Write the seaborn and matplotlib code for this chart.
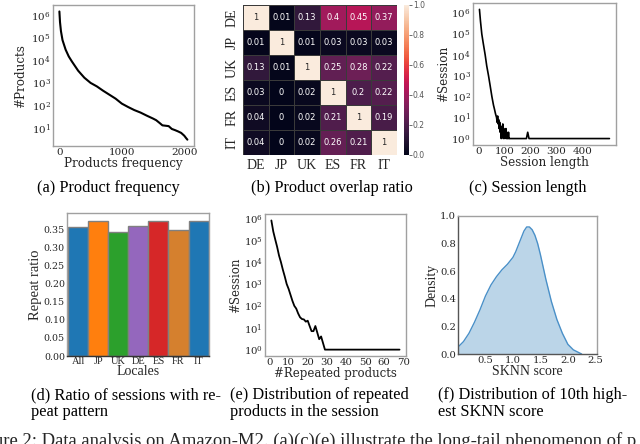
import numpy as np
import pandas as pd
import matplotlib
matplotlib.use("Agg")
import matplotlib.pyplot as plt
import seaborn as sns

# ---------------- data ----------------
# (a) product frequency
prod_x = [0, 10, 25, 50, 100, 150, 200, 300, 400, 500, 600, 700, 800, 900, 1000,
          1100, 1200, 1300, 1400, 1500, 1550, 1600, 1650, 1700, 1750, 1800, 1850,
          1900, 1950, 2000, 2030, 2050]
prod_y = [1.5e6, 5e5, 2e5, 8e4, 3e4, 1.5e4, 9e3, 3.5e3, 1.7e3, 1e3, 700, 450, 300,
          200, 120, 85, 62, 48, 35, 26, 22, 17, 13, 12.5, 12, 9, 8, 7, 6, 4.5, 3.5, 3]

# (b) product overlap ratio
locales_hm = ["DE", "JP", "UK", "ES", "FR", "IT"]
overlap = [
    [1, 0.01, 0.13, 0.4, 0.45, 0.37],
    [0.01, 1, 0.01, 0.03, 0.03, 0.03],
    [0.13, 0.01, 1, 0.25, 0.28, 0.22],
    [0.03, 0, 0.02, 1, 0.2, 0.22],
    [0.04, 0, 0.02, 0.21, 1, 0.19],
    [0.04, 0, 0.02, 0.26, 0.21, 1],
]

# (c) session length
sess_x = [4, 8, 13, 18, 26, 32, 39, 45, 52, 58, 62, 66, 70, 72, 74, 76, 78, 80, 82,
          84, 86, 88, 90, 92, 94, 96, 98, 100, 102, 104, 106, 108, 110, 112, 114,
          116, 118, 120, 185, 190, 195, 505]
sess_y = [1.5e6, 4e5, 1e5, 4e4, 1e4, 3e3, 1e3, 350, 100, 40, 25, 15, 10, 6, 12, 5,
          8, 3, 6, 2, 4, 1, 3, 2, 5, 1, 3, 2, 1, 2, 3, 1, 2, 1, 1, 2, 1, 1, 1, 2, 1, 1]

# (d) repeat ratio per locale
locales_bar = ["All", "JP", "UK", "DE", "ES", "FR", "IT"]
repeat_ratio = [0.357, 0.372, 0.342, 0.359, 0.372, 0.349, 0.373]
bar_colors = ["#1f77b4", "#ff7f0e", "#2ca02c", "#9467bd", "#d62728", "#d5802e", "#1f77b4"]

# (e) repeated products
rep_x = [1, 2, 3, 4, 5, 6, 7, 8, 9, 10, 11, 12, 13, 14, 15, 16, 17, 18, 19, 20, 21,
         22, 23, 24, 25, 26, 27, 28, 29, 68]
rep_y = [8e5, 2.5e5, 1.1e5, 5e4, 2e4, 1e4, 4.5e3, 2.2e3, 1e3, 600, 320, 170, 100, 75,
         45, 30, 25, 24, 19, 21, 12, 7, 7, 12, 6, 3, 4, 2, 1, 1]

# (f) density of 10th highest SKNN score
sknn_x = [0.0, 0.1, 0.2, 0.3, 0.4, 0.5, 0.6, 0.7, 0.8, 0.9, 1.0, 1.05, 1.1, 1.15,
          1.2, 1.25, 1.3, 1.35, 1.4, 1.45, 1.5, 1.6, 1.7, 1.8, 1.9, 2.0, 2.1, 2.2, 2.25]
sknn_d = [0.05, 0.09, 0.15, 0.23, 0.32, 0.42, 0.5, 0.56, 0.61, 0.65, 0.7, 0.74,
          0.79, 0.84, 0.89, 0.92, 0.92, 0.9, 0.86, 0.8, 0.72, 0.54, 0.38, 0.25,
          0.15, 0.07, 0.03, 0.01, 0.0]

# ---------------- style ----------------
sns.set_theme(style="white")
plt.rcParams["font.family"] = ["DejaVu Serif"]
plt.rcParams["mathtext.fontset"] = "dejavuserif"
plt.rcParams["axes.edgecolor"] = "#a0a0a0"
plt.rcParams["axes.linewidth"] = 1.0

TIMES = "Liberation Serif"
TICK = 7.5
LAB = 8.6

fig = plt.figure(figsize=(6.4, 4.44), dpi=100)


def log_axis(ax):
    ax.set_yscale("log")
    ax.minorticks_off()


def clean_ticks(ax, fs=TICK):
    ax.tick_params(labelsize=fs, length=0, pad=1.5)


# ---- (a) ----
ax_a = fig.add_axes([0.0828, 0.671, 0.220, 0.3176])
sns.lineplot(x=prod_x, y=prod_y, ax=ax_a, color="black", linewidth=1.5)
log_axis(ax_a)
ax_a.set_yticks([1e1, 1e2, 1e3, 1e4, 1e5, 1e6])
ax_a.set_xticks([0, 1000, 2000])
clean_ticks(ax_a)
ax_a.set_xlabel("Products frequency", fontsize=LAB, labelpad=0)
ax_a.set_ylabel("#Products", fontsize=LAB, labelpad=3)

# ---- (b) ----
ax_b = fig.add_axes([0.3797, 0.651, 0.2406, 0.3378])
cax = fig.add_axes([0.631, 0.651, 0.0078, 0.3378])
hm = pd.DataFrame(overlap, index=locales_hm, columns=locales_hm)
sns.heatmap(hm, ax=ax_b, cbar_ax=cax, cmap="rocket", vmin=0, vmax=1, annot=True,
            annot_kws={"fontsize": 6, "family": "DejaVu Sans"},
            linewidths=0.5, linecolor="#3a3a3a")
ax_b.tick_params(length=0, pad=3)
ax_b.set_xticklabels(locales_hm, fontsize=10, family=TIMES, rotation=0)
ax_b.set_yticklabels(locales_hm, fontsize=10, family=TIMES, rotation=90, va="center")
cax.set_yticks([0, 0.2, 0.4, 0.6, 0.8, 1.0])
cax.set_yticklabels(["0.0", "0.2", "0.4", "0.6", "0.8", "1.0"], family="DejaVu Sans")
cax.tick_params(labelsize=5.5, length=2, width=0.6, colors="#555555", pad=1)

# ---- (c) ----
ax_c = fig.add_axes([0.739, 0.6734, 0.2234, 0.32])
sns.lineplot(x=sess_x, y=sess_y, ax=ax_c, color="black", linewidth=1.2)
log_axis(ax_c)
ax_c.set_yticks([1e0, 1e1, 1e2, 1e3, 1e4, 1e5, 1e6])
ax_c.set_xticks([0, 100, 200, 300, 400])
clean_ticks(ax_c)
ax_c.set_xlabel("Session length", fontsize=LAB, labelpad=0)
ax_c.set_ylabel("#Session", fontsize=LAB, labelpad=1)

# ---- (d) ----
ax_d = fig.add_axes([0.1047, 0.198, 0.2219, 0.322])
sns.barplot(x=locales_bar, y=repeat_ratio, hue=locales_bar, palette=bar_colors,
            ax=ax_d, width=1.0, edgecolor="#808080", linewidth=1.0, legend=False,
            saturation=1)
ax_d.set_xlim(-0.55, 6.52)
ax_d.set_ylim(0, 0.395)
yt = np.arange(0, 0.36, 0.05)
ax_d.set_yticks(yt)
ax_d.set_yticklabels([f"{v:.2f}" for v in yt])
ax_d.set_xticks(range(len(locales_bar)))
ax_d.set_xticklabels(locales_bar, family=TIMES)
ax_d.tick_params(axis="y", labelsize=6.8, length=0, pad=1.5)
ax_d.tick_params(axis="x", labelsize=7.5, length=0, pad=1)
ax_d.spines["bottom"].set_color("#333333")
ax_d.set_xlabel("Locales", fontsize=10, family=TIMES, labelpad=-1)
ax_d.set_ylabel("Repeat ratio", fontsize=10.5, family=TIMES, labelpad=1)

# ---- (e) ----
ax_e = fig.add_axes([0.414, 0.198, 0.2203, 0.32])
sns.lineplot(x=rep_x, y=rep_y, ax=ax_e, color="black", linewidth=1.3)
log_axis(ax_e)
ax_e.set_yticks([1e0, 1e1, 1e2, 1e3, 1e4, 1e5, 1e6])
ax_e.set_xticks(range(0, 71, 10))
clean_ticks(ax_e, 7.3)
ax_e.set_xlabel("#Repeated products", fontsize=8.5, labelpad=0)
ax_e.set_ylabel("#Session", fontsize=8.5, labelpad=1)

# ---- (f) ----
ax_f = fig.add_axes([0.7156, 0.2027, 0.2172, 0.311])
sns.lineplot(x=sknn_x, y=sknn_d, ax=ax_f, color="#4a90c8", linewidth=1.0)
ax_f.fill_between(sknn_x, sknn_d, color="#1f77b4", alpha=0.3, linewidth=0)
ax_f.set_xlim(0, 2.53)
ax_f.set_ylim(0, 1.0)
ax_f.set_xticks([0.5, 1.0, 1.5, 2.0, 2.5])
ax_f.set_yticks([0.0, 0.2, 0.4, 0.6, 0.8, 1.0])
clean_ticks(ax_f, 7.2)
ax_f.spines["bottom"].set_color("#555555")
ax_f.spines["left"].set_color("#555555")
ax_f.set_xlabel("SKNN score", fontsize=10, family=TIMES, labelpad=0)
ax_f.set_ylabel("Density", fontsize=10, family=TIMES, labelpad=1)

# ---------------- captions ----------------
cap = dict(fontsize=11.8, family=TIMES, color="black")
fig.text(0.169, 0.577, "(a) Product frequency", ha="center", va="center", **cap)
fig.text(0.519, 0.577, "(b) Product overlap ratio", ha="center", va="center", **cap)
fig.text(0.825, 0.577, "(c) Session length", ha="center", va="center", **cap)
fig.text(0.048, 0.110, "(d) Ratio of sessions with re-", ha="left", va="center", **cap)
fig.text(0.048, 0.072, "peat pattern", ha="left", va="center", **cap)
fig.text(0.359, 0.110, "(e) Distribution of repeated", ha="left", va="center", **cap)
fig.text(0.359, 0.072, "products in the session", ha="left", va="center", **cap)
fig.text(0.685, 0.110, "(f) Distribution of 10th high-", ha="left", va="center", **cap)
fig.text(0.685, 0.072, "est SKNN score", ha="left", va="center", **cap)
fig.text(-0.048, 0.026,
         "Figure 2: Data analysis on Amazon-M2. (a)(c)(e) illustrate the long-tail phenomenon of p",
         ha="left", va="top", fontsize=13.4, family=TIMES)

fig.savefig("out.png", dpi=100)
